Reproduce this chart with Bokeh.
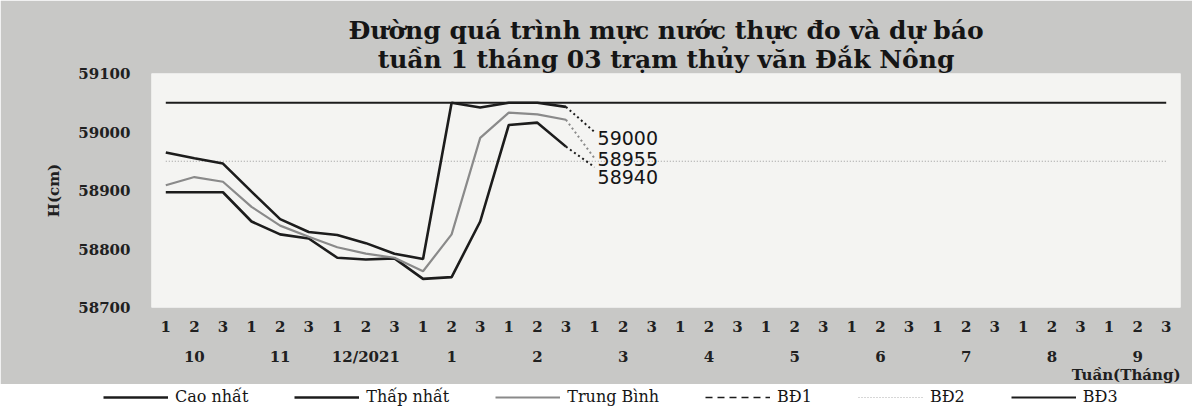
from bokeh.plotting import figure
from bokeh.layouts import column
from bokeh.models import (FactorRange, Range1d, FixedTicker, Title, Legend,
                          LegendItem, ColumnDataSource)
from bokeh.core.properties import value
from bokeh.embed import file_html
from bokeh.resources import INLINE

# ---------------- data ----------------
months = ["10", "11", "12/2021", "1", "2", "3", "4", "5", "6", "7", "8", "9"]
weeks = ["1", "2", "3"]

cao_nhat = [58965, 58955, 58946, 58898, 58851, 58829, 58824, 58810, 58792,
            58783, 59050, 59042, 59050, 59050, 59043]
thap_nhat = [58897, 58897, 58897, 58847, 58825, 58818, 58785, 58782, 58784,
             58749, 58752, 58847, 59012, 59016, 58975]
trung_binh = [58909, 58923, 58915, 58872, 58840, 58821, 58803, 58792, 58785,
              58762, 58825, 58990, 59033, 59030, 59021]

forecast_cao = 59000
forecast_tb = 58955
forecast_thap = 58940

bd2_level = 58950
bd3_level = 59050

y_ticks = [58700, 58800, 58900, 59000, 59100]

title_line1 = "Đường quá trình mực nước thực đo và dự báo"
title_line2 = "tuần 1 tháng 03 trạm thủy văn Đắk Nông"
legend_labels = ["Cao nhất", "Thấp nhất", "Trung Bình", "BĐ1", "BĐ2", "BĐ3"]

# ---------------- styles ----------------
SERIF = "DejaVu Serif"
DARK = "#1c1c1c"
GRAY = "#8a8a8a"
BG = "#c8c8c6"
line_styles = [
    dict(line_color=DARK, line_width=2.6),
    dict(line_color=DARK, line_width=2.6),
    dict(line_color=GRAY, line_width=2.2),
    dict(line_color=DARK, line_width=1.5, line_dash="7 5"),
    dict(line_color="#b0b0b0", line_width=1.2, line_dash="1 2"),
    dict(line_color=DARK, line_width=2),
]

# ---------------- main figure ----------------
factors = [(m, w) for m in months for w in weeks]
n_obs = len(cao_nhat)
obs_x = factors[:n_obs]
fc_x = [factors[n_obs - 1], factors[n_obs]]

p = figure(
    x_range=FactorRange(*factors, group_padding=0, factor_padding=0,
                        subgroup_padding=0, range_padding=0),
    y_range=Range1d(y_ticks[0], y_ticks[-1]),
    width=1192, height=384,
    output_backend="svg", toolbar_location=None, title=None,
    min_border_left=151, min_border_right=12,
    min_border_top=73, min_border_bottom=77,
    background_fill_color="#f4f4f2", border_fill_color=BG,
    outline_line_color=None,
)
p.xgrid.visible = False
p.ygrid.visible = False

# y axis
p.yaxis.ticker = FixedTicker(ticks=y_ticks)
p.yaxis.axis_line_color = None
p.yaxis.major_tick_line_color = None
p.yaxis.minor_tick_line_color = None
p.yaxis.major_tick_out = 0
p.yaxis.major_tick_in = 0
p.yaxis.major_label_standoff = 21
p.yaxis.major_label_text_font = SERIF
p.yaxis.major_label_text_font_size = "15px"
p.yaxis.major_label_text_font_style = "bold"
p.yaxis.major_label_text_color = "#202020"
p.yaxis.axis_label = "H(cm)"
p.yaxis.axis_label_text_font = SERIF
p.yaxis.axis_label_text_font_size = "15px"
p.yaxis.axis_label_text_font_style = "bold"
p.yaxis.axis_label_text_color = "#202020"
p.yaxis.axis_label_standoff = 12

# x axis (week / month)
p.xaxis.axis_line_color = None
p.xaxis.major_tick_line_color = None
p.xaxis.minor_tick_line_color = None
p.xaxis.major_tick_out = 0
p.xaxis.major_tick_in = 0
p.xaxis.separator_line_color = None
p.xaxis.major_label_standoff = 13
p.xaxis.major_label_text_font = SERIF
p.xaxis.major_label_text_font_size = "15px"
p.xaxis.major_label_text_font_style = "bold"
p.xaxis.major_label_text_color = "#202020"
p.xaxis.group_text_font = SERIF
p.xaxis.group_text_font_size = "15px"
p.xaxis.group_text_font_style = "bold"
p.xaxis.group_text_color = "#202020"

# titles
p.add_layout(Title(text=title_line2, align="center", text_font=SERIF,
                   text_font_size="25px", text_font_style="bold",
                   text_color="#151515", standoff=0), "above")
p.add_layout(Title(text=title_line1, align="center", text_font=SERIF,
                   text_font_size="25px", text_font_style="bold",
                   text_color="#151515", standoff=-4), "above")
p.add_layout(Title(text="Tuần(Tháng)", align="right", text_font=SERIF,
                   text_font_size="15px", text_font_style="bold",
                   text_color="#202020", standoff=-10), "below")

# alarm levels
p.line(x=[factors[0], factors[-1]], y=[bd3_level, bd3_level], **line_styles[5])
p.line(x=[factors[0], factors[-1]], y=[bd2_level, bd2_level],
       line_color="#9a9a9a", line_width=1.2, line_dash="1 2")

# observed series
p.line(x=obs_x, y=cao_nhat, **line_styles[0])
p.line(x=obs_x, y=thap_nhat, **line_styles[1])
p.line(x=obs_x, y=trung_binh, **line_styles[2])

# forecast (dotted)
p.line(x=fc_x, y=[cao_nhat[-1], forecast_cao], line_color=DARK,
       line_width=2, line_dash="2 3")
p.line(x=fc_x, y=[trung_binh[-1], forecast_tb], line_color=GRAY,
       line_width=2, line_dash="2 3")
p.line(x=fc_x, y=[thap_nhat[-1], forecast_thap], line_color=DARK,
       line_width=2, line_dash="2 3")

fc_vals = [forecast_cao, forecast_tb, forecast_thap]
lbl_src = ColumnDataSource(dict(
    x=[factors[n_obs]] * 3,
    y=fc_vals,
    text=[str(v) for v in fc_vals],
    dy=[6, 1, 10],
))
p.text(x="x", y="y", text="text", y_offset="dy", x_offset=3, source=lbl_src,
       text_font=value("DejaVu Sans"), text_font_size="19px",
       text_baseline="middle", text_align="left", text_color="#151515")

# ---------------- legend strip ----------------
lg = figure(width=1192, height=28, output_backend="svg", toolbar_location=None,
            title=None, x_range=Range1d(0, 1), y_range=Range1d(0, 1),
            x_axis_type=None, y_axis_type=None,
            min_border=0, border_fill_color=BG, background_fill_color=BG,
            background_fill_alpha=0, outline_line_color=None)
lg.xgrid.visible = False
lg.ygrid.visible = False

# keep the legend strip's frame full width (do not align it to the chart's)
legend_x = -48
if "frame_align" in lg.properties():
    lg.frame_align = False
    legend_x = 103

nan = float("nan")
items = []
for lab, st in zip(legend_labels, line_styles):
    # legend-only renderer: hidden, it only lends its line style to the key
    r = lg.line(x=[nan], y=[nan], visible=False, **st)
    items.append(LegendItem(label=lab, renderers=[r]))
legend = Legend(items=items, orientation="horizontal", location=(legend_x, 6),
                background_fill_alpha=0, border_line_color=None,
                padding=0, margin=0, spacing=46, glyph_width=65,
                glyph_height=16, label_standoff=7, label_text_font=SERIF,
                label_text_font_size="16px", label_text_color="#151515")
lg.add_layout(legend, "center")

layout = column(p, lg, spacing=0)
open("out.html", "w").write(file_html(layout, INLINE))
